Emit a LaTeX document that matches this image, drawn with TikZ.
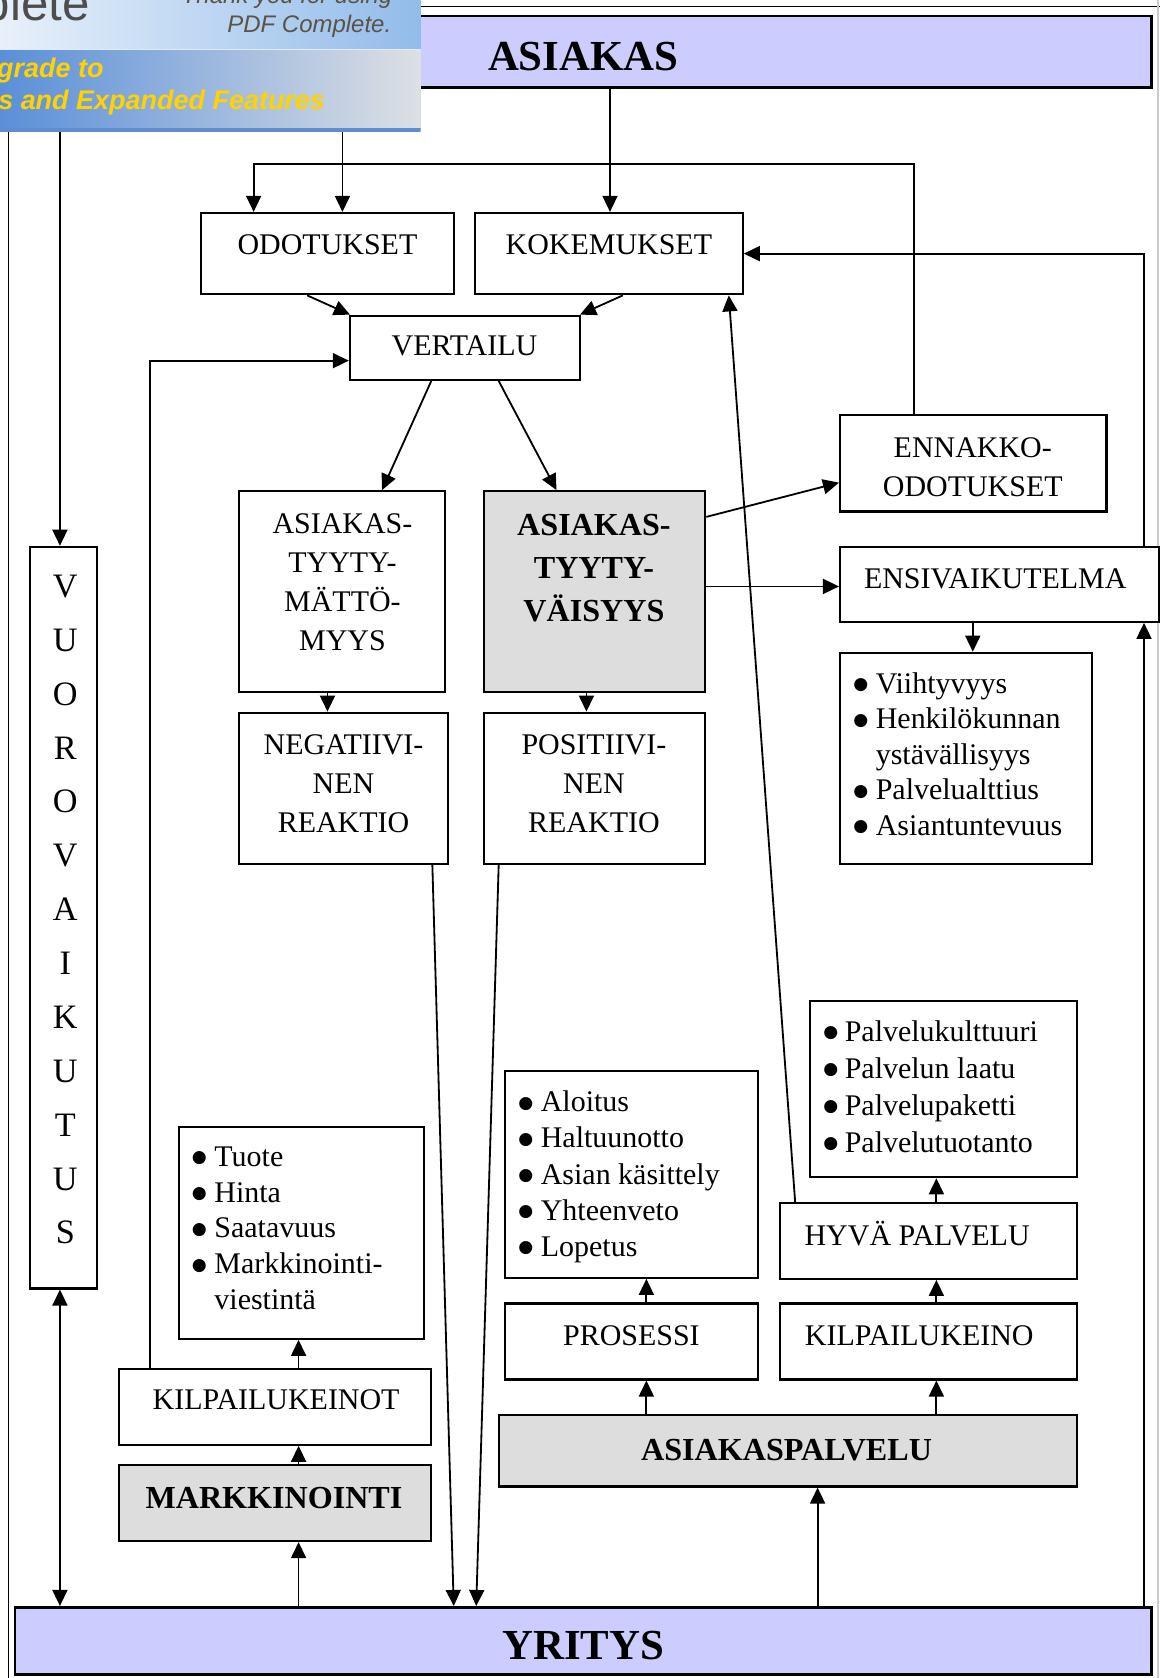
\documentclass[tikz,border=0pt]{standalone}
\usepackage{fontspec}
\setmainfont{Liberation Serif}
\newfontfamily\bannerfont{Liberation Sans}
\newfontfamily\symfont{DejaVu Sans}
\usetikzlibrary{arrows.meta,fit}

\definecolor{lav}{HTML}{CCCCFF}
\definecolor{boxgray}{HTML}{DDDDDD}
\definecolor{bantopl}{HTML}{E8F0FA}
\definecolor{bantopr}{HTML}{92BCEA}
\definecolor{banbotl}{HTML}{5A8FD8}
\definecolor{banbotm}{HTML}{A2C0E2}
\definecolor{banbotr}{HTML}{DDE0E4}
\definecolor{banline}{HTML}{5E8ED0}
\definecolor{bangray}{HTML}{4D4D4D}
\definecolor{banbrown}{HTML}{5C5346}
\definecolor{banyellow}{HTML}{FFD200}

% bullet marker of fixed width, so that wrapped lines can be indented alike
\newcommand{\itm}[1][10.5pt]{\makebox[#1][l]{\raisebox{1.6pt}{\symfont\fontsize{8}{8}\selectfont ●}}}

\tikzset{
  box/.style={draw, line width=1pt, inner sep=0pt, fill=white},
  graybox/.style={box, fill=boxgray},
  band/.style={draw, line width=1.3pt, inner sep=0pt, fill=lav},
  lbl/.style={inner sep=0pt, align=center, font=\fontsize{14}{18.2}\selectfont},
  blbl/.style={inner sep=0pt, align=center, font=\bfseries\fontsize{15}{20}\selectfont},
  biglbl/.style={inner sep=0pt, font=\bfseries\fontsize{20}{24}\selectfont},
  lst/.style={inner sep=0pt, align=left, anchor=north west},
  conn/.style={line width=0.85pt},
  arr/.style={conn, -{Triangle[length=7.5pt,width=7pt]}},
  darr/.style={conn, {Triangle[length=7.5pt,width=7pt]}-{Triangle[length=7.5pt,width=7pt]}},
}

\begin{document}
\begin{tikzpicture}[x=0.5pt,y=-0.5pt]
\useasboundingbox (0,0) rectangle (1084,1568);

% page frame
\draw[line width=0.75pt] (8,1568) -- (8,6) -- (1084,6);
\draw[line width=0.75pt, black!20] (1082,0) -- (1082,1568);

% the two bands: customer and company
\node[band, fit={(14,15) (1076,82)}] (asiakas) {};
\node[biglbl] (asiakas-t) at (545,53) {ASIAKAS};
\node[band, fit={(14,1502) (1076,1565)}] (yritys) {};
\node[biglbl] (yritys-t) at (545,1538) {YRITYS};

% interaction column
\node[box, fit={(28,511) (91,1204)}] (vuoro) {};
\node[inner sep=0pt, align=center, font=\fontsize{16}{25.17}\selectfont] (vuoro-t) at (61,850)
  {V\\U\\O\\R\\O\\V\\A\\I\\K\\U\\T\\U\\S};

% expectations, experiences, comparison
\node[box, fit={(188,199) (424,275)}] (odot) {};
\node[lbl] (odot-t) at (306,229) {ODOTUKSET};
\node[box, fit={(444,199) (694,275)}] (kokem) {};
\node[lbl] (kokem-t) at (569,229) {KOKEMUKSET};
\node[box, fit={(327,295) (542,355)}] (vert) {};
\node[lbl] (vert-t) at (434,323) {VERTAILU};

% satisfaction and reactions
\node[box, fit={(223,459) (416,647)}] (tyyt) {};
\node[lbl] (tyyt-t) at (320,544) {ASIAKAS-\\TYYTY-\\MÄTTÖ-\\MYYS};
\node[graybox, fit={(452,459) (659,647)}] (tyyv) {};
\node[blbl] (tyyv-t) at (555,531) {ASIAKAS-\\TYYTY-\\VÄISYYS};
\node[box, fit={(223,666) (419,807)}] (neg) {};
\node[lbl] (neg-t) at (321,732) {NEGATIIVI-\\NEN\\REAKTIO};
\node[box, fit={(452,666) (659,807)}] (pos) {};
\node[lbl] (pos-t) at (555,732) {POSITIIVI-\\NEN\\REAKTIO};

% right column: advance expectations and first impression
\node[box, fit={(785,388) (1034,478)}] (ennakko) {};
\node[lbl] (ennakko-t) at (909,437) {ENNAKKO-\\ODOTUKSET};
\node[box, fit={(785,511) (1083,581)}] (ensi) {};
\node[lbl] (ensi-t) at (930,541) {ENSIVAIKUTELMA};
\node[box, fit={(785,610) (1020,807)}] (ensilist) {};
\node[lst, font=\fontsize{14}{16.6}\selectfont] (ensilist-t) at (797,628)
  {\itm Viihtyvyys\\ \itm Henkilökunnan\\ \hspace*{10.5pt}ystävällisyys\\ \itm Palvelualttius\\ \itm Asiantuntevuus};

% marketing branch
\node[box, fit={(167,1053) (396,1251)}] (kklist) {};
\node[lst, font=\fontsize{14}{16.75}\selectfont] (kklist-t) at (179,1071)
  {\itm Tuote\\ \itm Hinta\\ \itm Saatavuus\\ \itm Markkinointi-\\ \hspace*{10.5pt}viestintä};
\node[box, fit={(111,1279) (403,1350)}] (kk) {};
\node[lbl] (kk-t) at (258,1308) {KILPAILUKEINOT};
\node[graybox, fit={(111,1369) (403,1440)}] (mark) {};
\node[blbl] (mark-t) at (256,1400) {MARKKINOINTI};

% customer service branch
\node[box, fit={(472,1001) (708,1194)}] (proslist) {};
\node[lst, font=\fontsize{14}{16.9}\selectfont] (proslist-t) at (484,1019)
  {\itm Aloitus\\ \itm Haltuunotto\\ \itm Asian käsittely\\ \itm Yhteenveto\\ \itm Lopetus};
\node[box, fit={(472,1218) (708,1289)}] (pros) {};
\node[lbl] (pros-t) at (590,1248) {PROSESSI};
\node[box, fit={(757,935) (1006,1100)}] (palvlist) {};
\node[lst, font=\fontsize{14}{17.3}\selectfont] (palvlist-t) at (769,953)
  {\itm[10pt]Palvelukulttuuri\\ \itm[10pt]Palvelun laatu\\ \itm[10pt]Palvelupaketti\\ \itm[10pt]Palvelutuotanto};
\node[box, fit={(729,1124) (1006,1195)}] (hyva) {};
\node[lbl] (hyva-t) at (857,1153) {HYVÄ PALVELU};
\node[box, fit={(729,1218) (1006,1289)}] (kkeino) {};
\node[lbl] (kkeino-t) at (859,1248) {KILPAILUKEINO};
\node[graybox, fit={(466,1322) (1006,1389)}] (aspa) {};
\node[blbl] (aspa-t) at (735,1355) {ASIAKASPALVELU};

% connectors from the customer band
\draw[arr] (asiakas.south -| 320,0) -- (odot.north -| 320,0);
\draw[arr] (asiakas.south -| 570,0) -- (kokem.north -| 570,0);
\draw[arr] (asiakas.south -| 56,0) -- (vuoro.north -| 56,0);
\draw[arr] (ennakko.north -| 854,0) -- (854,153) -- (237,153) -- (odot.north -| 237,0);

% comparison
\draw[arr] (odot.south -| 287,0) -- (vert.north -| 327,0);
\draw[arr] (kokem.south -| 582,0) -- (vert.north -| 542,0);
\draw[arr] (vert.south -| 403,0) -- (tyyt.north -| 357,0);
\draw[arr] (vert.south -| 466,0) -- (tyyv.north -| 520,0);
\draw[arr] (kk.north -| 140,0) -- (140,337) -- (vert.west |- 0,337);

% reactions
\draw[arr] (tyyt.south -| 306,0) -- (neg.north -| 306,0);
\draw[arr] (tyyv.south -| 548,0) -- (pos.north -| 548,0);
\draw[arr] (neg.south -| 404,0) -- (yritys.north -| 424,0);
\draw[arr] (pos.south -| 466,0) -- (yritys.north -| 445,0);
\draw[arr] (tyyv.east |- 0,483) -- (ennakko.west |- 0,451);
\draw[arr] (tyyv.east |- 0,548) -- (ensi.west |- 0,548);

% first impression
\draw[arr] (ensi.south -| 909,0) -- (ensilist.north -| 909,0);
\draw[arr] (ensi.north -| 1069,0) -- (1069,237) -- (kokem.east |- 0,237);
\draw[arr] (yritys.north -| 1069,0) -- (ensi.south -| 1069,0);
\draw[arr] (hyva.north -| 743,0) -- (kokem.south -| 681,0);

% company side
\draw[arr] (hyva.north -| 875,0) -- (palvlist.south -| 875,0);
\draw[arr] (kkeino.north -| 875,0) -- (hyva.south -| 875,0);
\draw[arr] (aspa.north -| 875,0) -- (kkeino.south -| 875,0);
\draw[arr] (pros.north -| 604,0) -- (proslist.south -| 604,0);
\draw[arr] (aspa.north -| 604,0) -- (pros.south -| 604,0);
\draw[arr] (yritys.north -| 764,0) -- (aspa.south -| 764,0);
\draw[arr] (kk.north -| 279,0) -- (kklist.south -| 279,0);
\draw[arr] (mark.north -| 279,0) -- (kk.south -| 279,0);
\draw[arr] (yritys.north -| 279,0) -- (mark.south -| 279,0);
\draw[darr] (vuoro.south -| 56,0) -- (yritys.north -| 56,0);

% viewer banner in the corner
\begin{scope}
  \clip (0,0) rectangle (393,123);
  \shade[left color=bantopl, right color=bantopr] (0,0) rectangle (393,46);
  \shade[left color=banbotl, middle color=banbotm, right color=banbotr] (0,46) rectangle (393,121);
  \fill[banline] (0,120) rectangle (393,123);
  \draw[white!70!bantopr, line width=0.5pt] (0,46) -- (393,46);
  \node[inner sep=0pt, anchor=base east, text=bangray, font=\bannerfont\fontsize{23}{26}\selectfont] (ban-a) at (84,19) {plete};
  \node[inner sep=0pt, anchor=base east, text=banbrown, font=\bannerfont\itshape\fontsize{11.2}{13}\selectfont] (ban-b) at (367,3) {Thank you for using};
  \node[inner sep=0pt, anchor=base east, text=banbrown, font=\bannerfont\itshape\fontsize{11.2}{13}\selectfont] (ban-c) at (366,30) {PDF Complete.};
  \node[inner sep=0pt, anchor=base west, text=banyellow, font=\bannerfont\bfseries\itshape\fontsize{12.6}{14}\selectfont] (ban-d) at (-3,72) {grade to};
  \node[inner sep=0pt, anchor=base west, text=banyellow, font=\bannerfont\bfseries\itshape\fontsize{12.6}{14}\selectfont] (ban-e) at (-2,102) {s and Expanded Features};
\end{scope}
\end{tikzpicture}
\end{document}
